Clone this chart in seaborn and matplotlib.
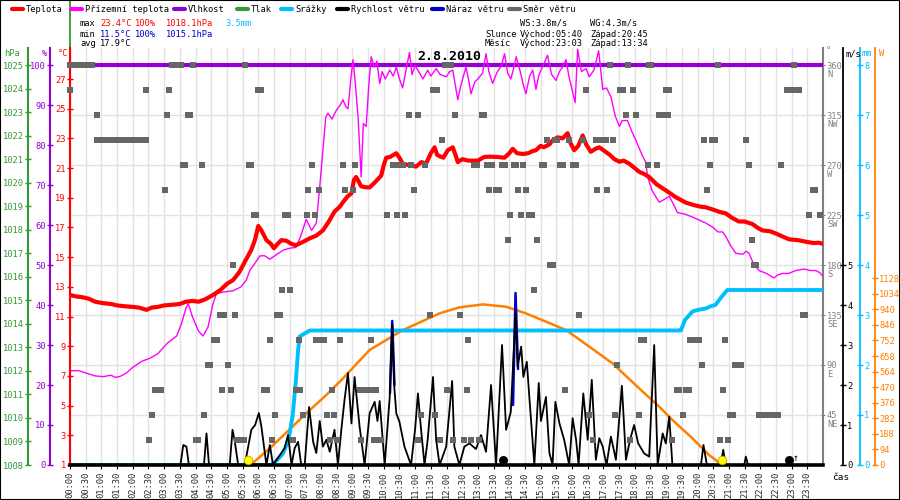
import numpy as np
import matplotlib
matplotlib.use("Agg")
import matplotlib.pyplot as plt
from matplotlib.lines import Line2D
from matplotlib.patches import Rectangle
import seaborn as sns

# --- data (hours since midnight) ---
day_label = "2.8.2010"

temp_hours = [0.0, 0.2, 0.4, 0.6, 0.8, 1.06, 1.3, 1.5, 1.7, 2.0, 2.2, 2.44, 2.6, 2.8, 3.0, 3.3, 3.5, 3.7,
              3.9, 4.1, 4.3, 4.56, 4.8, 5.0, 5.2, 5.4, 5.6, 5.78, 5.9, 6.0, 6.1, 6.26, 6.4, 6.5, 6.62,
              6.74, 6.9, 7.05, 7.2, 7.4, 7.64, 7.85, 8.06, 8.25, 8.43, 8.6, 8.7, 8.85, 8.97, 9.05, 9.12,
              9.2, 9.28, 9.45, 9.55, 9.7, 9.92, 10.0, 10.08, 10.2, 10.4, 10.5, 10.6, 10.8, 11.03, 11.2,
              11.35, 11.5, 11.62, 11.7, 11.78, 11.9, 12.04, 12.2, 12.3, 12.36, 12.5, 12.7, 12.84, 13.0,
              13.2, 13.37, 13.6, 13.85, 14.0, 14.11, 14.25, 14.43, 14.6, 14.75, 14.85, 15.0, 15.1, 15.28,
              15.4, 15.54, 15.7, 15.86, 15.95, 16.07, 16.2, 16.34, 16.45, 16.6, 16.75, 16.87, 17.0, 17.2,
              17.35, 17.51, 17.65, 17.82, 18.0, 18.14, 18.3, 18.46, 18.7, 18.99, 19.3, 19.63, 19.9, 20.1,
              20.26, 20.5, 20.7, 20.9, 21.1, 21.32, 21.5, 21.75, 21.9, 22.07, 22.3, 22.49, 22.7, 22.92,
              23.2, 23.45, 23.7, 23.87, 24.0]
temp_c = [12.45, 12.35, 12.3, 12.2, 12.0, 11.9, 11.85, 11.75, 11.7, 11.65, 11.6, 11.45, 11.6, 11.65, 11.75,
          11.8, 11.85, 12.0, 12.05, 12.0, 12.15, 12.45, 12.8, 13.2, 13.46, 14.0, 14.8, 15.5, 16.2, 17.1,
          16.8, 16.15, 15.9, 15.6, 15.9, 16.15, 16.1, 15.9, 15.8, 16.0, 16.27, 16.45, 16.8, 17.4, 18.07,
          18.4, 18.7, 19.1, 19.3, 20.2, 20.4, 20.1, 19.77, 19.7, 19.7, 20.0, 20.5, 21.2, 21.7, 21.75, 22.0,
          21.7, 21.3, 21.2, 21.1, 21.4, 21.3, 22.0, 22.4, 21.9, 21.8, 21.7, 22.2, 22.4, 21.8, 21.4, 21.6,
          21.5, 21.5, 21.5, 21.75, 21.77, 21.75, 21.7, 22.0, 22.3, 22.0, 21.95, 22.0, 22.15, 22.2, 22.5,
          22.4, 22.6, 22.9, 23.07, 23.0, 23.35, 22.7, 22.2, 22.5, 23.2, 22.6, 22.1, 22.3, 22.4, 22.2,
          21.9, 21.6, 21.43, 21.5, 21.3, 21.0, 20.75, 20.6, 20.4, 19.9, 19.5, 19.05, 18.67, 18.5, 18.4,
          18.36, 18.2, 18.05, 17.95, 17.65, 17.4, 17.4, 17.23, 17.0, 16.8, 16.75, 16.6, 16.4, 16.2,
          16.15, 16.04, 15.95, 15.97, 15.9]

ground_hours = [0.0, 0.3, 0.5, 0.8, 1.06, 1.3, 1.45, 1.6, 1.8, 2.0, 2.3, 2.55, 2.8, 3.1, 3.4, 3.55, 3.7,
                3.77, 3.9, 4.1, 4.24, 4.4, 4.55, 4.67, 4.9, 5.2, 5.45, 5.62, 5.73, 5.9, 6.05, 6.2, 6.37,
                6.6, 6.8, 7.0, 7.2, 7.35, 7.53, 7.7, 7.85, 7.95, 8.06, 8.15, 8.22, 8.35, 8.49, 8.6, 8.7,
                8.8, 8.86, 8.95, 9.02, 9.08, 9.18, 9.28, 9.35, 9.44, 9.52, 9.6, 9.7, 9.78, 9.87, 9.95,
                10.05, 10.19, 10.3, 10.4, 10.5, 10.6, 10.7, 10.82, 10.9, 11.0, 11.14, 11.25, 11.4, 11.5,
                11.67, 11.8, 12.0, 12.1, 12.2, 12.36, 12.45, 12.62, 12.7, 12.78, 12.9, 13.0, 13.15, 13.26,
                13.35, 13.47, 13.6, 13.75, 13.85, 13.95, 14.05, 14.15, 14.22, 14.35, 14.45, 14.53, 14.65,
                14.75, 14.85, 14.95, 15.1, 15.22, 15.35, 15.49, 15.6, 15.7, 15.81, 15.9, 16.0, 16.1, 16.18,
                16.3, 16.45, 16.55, 16.7, 16.85, 16.98, 17.1, 17.24, 17.38, 17.51, 17.6, 17.77, 17.9, 18.03,
                18.15, 18.25, 18.35, 18.41, 18.55, 18.78, 18.95, 19.1, 19.25, 19.36, 19.6, 19.84, 20.05,
                20.26, 20.5, 20.65, 20.8, 20.9, 21.05, 21.22, 21.45, 21.55, 21.64, 21.8, 21.96, 22.2, 22.44,
                22.55, 22.7, 22.9, 23.13, 23.4, 23.6, 23.77, 23.9, 24.0]
ground_c = [7.35, 7.35, 7.2, 7.0, 6.95, 7.05, 6.9, 6.97, 7.2, 7.58, 8.0, 8.19, 8.5, 9.2, 9.69, 10.5, 11.6,
            11.85, 11.0, 10.0, 9.69, 10.3, 11.8, 12.56, 12.65, 12.74, 13.0, 13.46, 14.1, 14.6, 15.08, 15.1,
            14.86, 15.2, 15.48, 15.6, 15.66, 16.4, 17.55, 16.8, 17.3, 19.5, 22.2, 24.4, 24.7, 24.3, 24.9,
            25.2, 25.6, 25.1, 25.0, 27.0, 28.3, 27.0, 24.5, 20.4, 24.0, 23.8, 26.5, 28.5, 27.8, 28.2, 26.7,
            27.5, 27.0, 27.6, 27.2, 27.8, 27.0, 26.4, 27.5, 28.8, 27.3, 27.9, 27.4, 27.0, 27.6, 27.2, 27.7,
            27.3, 27.15, 27.5, 27.6, 25.6, 26.5, 27.8, 27.0, 26.0, 26.8, 27.0, 27.4, 28.7, 27.5, 26.7, 27.4,
            27.9, 28.7, 27.4, 27.0, 27.8, 28.5, 27.5, 26.6, 26.0, 27.2, 27.6, 26.3, 27.3, 28.0, 28.6, 27.3,
            26.9, 27.5, 27.8, 28.3, 27.2, 26.3, 25.4, 29.0, 27.5, 27.7, 27.15, 27.6, 28.9, 26.3, 26.4, 25.8,
            24.5, 23.8, 24.2, 24.2, 23.5, 22.9, 22.3, 21.8, 21.4, 20.4, 19.5, 18.7, 18.9, 19.1, 18.5, 18.0,
            17.9, 17.7, 17.5, 17.3, 17.0, 16.7, 16.7, 16.4, 15.8, 15.26, 15.2, 15.4, 15.26, 14.5, 14.1,
            13.9, 13.6, 13.8, 13.9, 13.9, 14.1, 14.2, 14.1, 14.1, 13.95, 13.7]

hum_hours = [0.0, 24.0]
hum_pct = [100, 100]

pressure_start = 1018.1

rain_hours = [0.0, 6.42, 6.6, 6.79, 6.9, 7.0, 7.1, 7.21, 7.27, 7.32, 7.45, 7.64, 19.4, 19.47, 19.6,
              19.84, 20.0, 20.26, 20.4, 20.57, 20.75, 20.95, 24.0]
rain_mm = [0, 0, 0.1, 0.23, 0.4, 0.63, 1.0, 1.77, 2.3, 2.57, 2.62, 2.69, 2.69, 2.69, 2.9, 3.07, 3.1,
           3.13, 3.17, 3.2, 3.35, 3.5, 3.5]

wind_hours = [0.0, 3.52, 3.61, 3.71, 3.79, 4.27, 4.35, 4.43, 5.09, 5.18, 5.25, 5.36, 5.57, 5.78, 5.9,
              6.02, 6.1, 6.26, 6.37, 6.47, 6.84, 6.95, 7.06, 7.16, 7.27, 7.37, 7.48, 7.62, 7.75, 7.85,
              7.96, 8.06, 8.17, 8.28, 8.43, 8.54, 8.65, 8.75, 8.86, 8.97, 9.07, 9.23, 9.39, 9.55, 9.71,
              9.8, 9.87, 10.03, 10.19, 10.27, 10.34, 10.4, 10.5, 10.66, 10.87, 11.0, 11.09, 11.19, 11.3,
              11.4, 11.57, 11.67, 11.78, 11.99, 12.04, 12.18, 12.25, 12.41, 12.57, 12.73, 12.94, 13.1,
              13.26, 13.42, 13.58, 13.77, 13.9, 14.05, 14.2, 14.27, 14.38, 14.45, 14.56, 14.64, 14.8,
              14.94, 15.01, 15.17, 15.28, 15.38, 15.47, 15.6, 15.75, 15.91, 16.02, 16.13, 16.21, 16.36,
              16.5, 16.63, 16.76, 16.87, 16.98, 17.1, 17.24, 17.4, 17.59, 17.72, 17.85, 17.98, 18.11,
              18.3, 18.46, 18.62, 18.73, 18.89, 18.99, 19.1, 19.2, 20.11, 20.19, 20.3, 20.74, 20.82,
              20.9, 21.49, 21.54, 21.61, 24.0]
wind_ms = [0, 0, 0.5, 0.46, 0, 0, 0.79, 0, 0, 0.88, 0.6, 0, 0, 0.88, 1.0,
           1.3, 0.96, 0, 0.5, 0, 0.42, 0.75, 0, 0.42, 0.58, 0, 0, 1.45, 0.58, 0.3,
           1.1, 0.46, 0.63, 0.33, 0.88, 0, 0.9, 1.63, 2.3, 1.04, 2.2, 0.96, 0, 1.29, 1.58,
           1.1, 1.6, 0, 1.7, 3.5, 1.9, 1.29, 1.08, 0.46, 0, 0.9, 1.79, 0.88, 0,
           0.63, 2.2, 0.63, 0, 0.46, 0.9, 2.1, 0.46, 0, 0.46, 0.54, 0.4, 0.75,
           0.33, 2.0, 0, 3.0, 0.88, 1.33, 3.8, 2.46, 2.96, 2.2, 2.58, 1.7, 0,
           2.05, 1.1, 1.7, 0.3, 0, 1.58, 1.04, 0.63, 0, 1.17, 0.63, 0, 1.79,
           0.63, 2.13, 0.13, 0.67, 0.46, 0, 0.71, 0.13, 1.98, 0.13, 0.63, 1.0, 0.54,
           0.29, 0.21, 3.0, 0, 0.79, 0.54, 1.21, 0, 0, 0.5, 0, 0, 0.38,
           0, 0, 0.21, 0, 0]

gust_a_hours = [10.2, 10.27, 10.34]
gust_a_ms = [1.8, 3.6, 2.0]
gust_b_hours = [14.12, 14.2, 14.28]
gust_b_ms = [1.5, 4.3, 2.4]

solar_hours = [5.75, 6.37, 7.0, 7.53, 8.17, 8.65, 9.55, 10.61, 11.78, 12.41, 13.16, 13.9, 14.53, 15.17,
               15.81, 16.55, 17.29, 18.14, 18.78, 19.2, 19.84, 20.37, 20.79]
solar_w = [0, 101, 215, 312, 423, 513, 695, 815, 916, 952, 970, 956, 916, 866, 815, 715, 614, 463, 352,
           272, 161, 60, 0]

# wind direction squares, one list of hours per 22.5 deg sector
dir_n = [0.0, 0.1, 0.2, 0.3, 0.4, 0.5, 0.6, 0.7, 3.24, 3.34, 3.45, 3.55, 3.93, 5.57, 11.94, 12.15, 17.22,
         17.79, 18.44, 18.52, 20.66, 23.08]
dir_nnw = [0.0, 2.42, 3.16, 6.0, 6.1, 11.56, 11.7, 16.46, 17.54, 17.62, 17.96, 19.0, 19.08, 22.86, 22.96,
           23.06, 23.16, 23.24]
dir_nw = [0.85, 3.1, 3.76, 3.84, 10.79, 11.1, 12.27, 13.12, 13.2, 17.73, 18.05, 18.78, 18.88, 18.98, 19.07]
dir_wnw = [0.85, 0.95, 1.05, 1.15, 1.25, 1.35, 1.45, 1.55, 1.65, 1.75, 1.85, 1.95, 2.05, 2.15, 2.25, 2.35,
           2.42, 11.87, 15.2, 15.45, 15.53, 15.91, 16.36, 16.76, 16.86, 16.97, 17.08, 17.3, 20.21, 20.47,
           20.55, 21.55]
dir_w = [3.6, 3.68, 4.2, 5.7, 5.78, 7.7, 8.69, 9.09, 10.3, 10.4, 10.5, 10.6, 10.88, 11.3, 12.88, 12.96,
         13.3, 13.46, 13.78, 13.86, 14.14, 14.22, 14.45, 15.03, 15.11, 15.63, 15.71, 16.04, 16.12, 18.41,
         18.72, 20.39, 21.64, 22.65]
dir_wsw = [3.02, 7.6, 7.94, 8.77, 9.03, 10.95, 13.37, 13.59, 13.67, 14.29, 14.53, 16.8, 17.11, 20.3,
           23.67, 23.75]
dir_sw = [5.85, 5.93, 6.86, 6.94, 7.54, 7.8, 8.85, 8.93, 10.11, 10.43, 10.68, 14.03, 14.39, 14.63, 14.71,
          23.55, 23.92]
dir_ssw = [13.95, 14.89, 21.73]
dir_s = [5.19, 15.3, 15.38, 21.79, 21.87]
dir_sse = [6.77, 7.02, 14.8]
dir_se = [4.77, 4.92, 5.27, 6.61, 6.69, 11.46, 12.43, 16.21, 23.35, 23.43]
dir_ese = [4.6, 4.68, 6.37, 7.29, 7.85, 8.02, 8.1, 8.62, 9.6, 12.7, 18.21, 18.29, 19.75, 19.85, 19.95,
           20.05, 20.88]
dir_e = [4.39, 4.47, 5.03, 17.45, 20.14, 21.2, 21.3, 21.4]
dir_ene = [2.7, 2.8, 2.9, 4.86, 5.12, 6.19, 6.27, 7.2, 7.34, 8.36, 9.23, 9.33, 9.44, 9.55, 9.76, 12.02,
           12.64, 15.79, 19.34, 19.42, 19.64, 19.72, 20.82]
dir_ne = [2.6, 4.27, 6.53, 7.43, 8.2, 8.43, 11.19, 11.62, 16.55, 17.37, 18.14, 19.54, 21.05, 21.13, 21.96,
          22.06, 22.16, 22.26, 22.36, 22.46, 22.56]
dir_nne = [2.51, 4.01, 4.09, 5.31, 5.39, 5.48, 5.56, 6.44, 7.12, 8.28, 8.52, 9.29, 9.69, 9.8, 9.9, 11.09,
           11.78, 12.22, 12.55, 12.79, 13.05, 16.66, 17.85, 19.2, 20.72, 20.96]
sectors = [(360, dir_n), (337.5, dir_nnw), (315, dir_nw), (292.5, dir_wnw), (270, dir_w),
           (247.5, dir_wsw), (225, dir_sw), (202.5, dir_ssw), (180, dir_s), (157.5, dir_sse),
           (135, dir_se), (112.5, dir_ese), (90, dir_e), (67.5, dir_ene), (45, dir_ne), (22.5, dir_nne)]

sun_marks = [5.68, 20.79]
moon_marks = [13.79, 22.92]

compass_ticks = [45, 90, 135, 180, 225, 270, 315, 360]
compass_names = ["NE", "E", "SE", "S", "SW", "W", "NW", "N"]

legend_labels = ["Teplota", "Přízemní teplota", "Vlhkost", "Tlak", "Srážky",
                 "Rychlost větru", "Náraz větru", "Směr větru"]

RED, MAG, PUR, GRN = "#ff0000", "#ff00ff", "#9400d3", "#339933"
CYA, BLK, BLU, GRY, ORA = "#00bfff", "#000000", "#0000cc", "#666666", "#ff8000"
legend_colors = [RED, MAG, PUR, GRN, CYA, BLK, BLU, GRY]
legend_x = [12, 71, 174, 237, 281, 337, 432, 509]

sns.set_style("white")
plt.rcParams["font.family"] = ["DejaVu Sans Mono", "DejaVu Sans"]
plt.rcParams["font.size"] = 6.3

W_PX, H_PX = 900, 500


def fx(x):
    return x / W_PX


def fy(y):
    return 1 - y / H_PX


fig = plt.figure(figsize=(9, 5), dpi=100)
L, R, T, B = 70, 823, 48, 465
ax_g = fig.add_axes([fx(L), fy(B), (R - L) / W_PX, (B - T) / H_PX])
ax_s = ax_g.twinx()
ax_r = ax_g.twinx()
ax_h = ax_g.twinx()
ax_p = ax_g.twinx()
ax_t = ax_g.twinx()
ax_w = ax_g.twinx()
ax_sq = ax_g.twinx()

# pixel scales of the reference
t_top = 1 + (B - T) / 14.846
h_top = (B - T) / 4.0
p_top = 1008 + (B - T) * 17 / 400
d_top = (B - T) * 360 / 400
w_top = (B - T) / 40
r_top = (B - T) / 50
s_top = (B - T) * 6.04

for a in [ax_g, ax_s, ax_r, ax_h, ax_p, ax_t, ax_w, ax_sq]:
    for sp in a.spines.values():
        sp.set_visible(False)
    a.set_xlim(0, 24)
    a.set_ylabel("")
    a.set_xlabel("")

# lines
sns.lineplot(x=solar_hours, y=solar_w, ax=ax_s, color=ORA, lw=1.8, estimator=None)
sns.lineplot(x=rain_hours, y=rain_mm, ax=ax_r, color=CYA, lw=2.8, estimator=None)
sns.lineplot(x=hum_hours, y=hum_pct, ax=ax_h, color=PUR, lw=3, estimator=None)
sns.lineplot(x=ground_hours, y=ground_c, ax=ax_t, color=MAG, lw=1.0, estimator=None)
sns.lineplot(x=temp_hours, y=temp_c, ax=ax_t, color=RED, lw=3, estimator=None)
sns.lineplot(x=gust_a_hours, y=gust_a_ms, ax=ax_w, color=BLU, lw=1.8, estimator=None)
sns.lineplot(x=gust_b_hours, y=gust_b_ms, ax=ax_w, color=BLU, lw=1.8, estimator=None)
sns.lineplot(x=wind_hours, y=wind_ms, ax=ax_w, color=BLK, lw=1.3, estimator=None)
sns.scatterplot(x=sun_marks, y=[0.13] * len(sun_marks), ax=ax_w, color="#ffff00", edgecolor="#c8a000",
                linewidth=0.6, s=38, zorder=5, clip_on=False)
sns.scatterplot(x=moon_marks, y=[0.13] * len(moon_marks), ax=ax_w, color=BLK, linewidth=0, s=42,
                zorder=5, clip_on=False)
ax_w.text(moon_marks[1] + 0.2, 0.05, "↑", fontsize=7, ha="center", va="bottom", color=BLK)

dir_hours = [h for d, hs in sectors for h in hs]
dir_deg = [d for d, hs in sectors for h in hs]
sns.scatterplot(x=dir_hours, y=dir_deg, ax=ax_sq, marker="s", s=24, color=GRY, linewidth=0,
                clip_on=False)

# limits
ax_g.set_ylim(0, d_top)
ax_sq.set_ylim(0, d_top)
ax_t.set_ylim(1, t_top)
ax_h.set_ylim(0, h_top)
ax_p.set_ylim(1008, p_top)
ax_w.set_ylim(0, w_top)
ax_r.set_ylim(0, r_top)
ax_s.set_ylim(0, s_top)
for a in [ax_g, ax_s, ax_r, ax_h, ax_p, ax_t, ax_w, ax_sq]:
    a.set_xlim(0, 24)

# grid + time axis on the base axes
ax_g.set_xticks(np.arange(0, 24, 0.5))
ax_g.set_xticklabels([f"{int(h):02d}:{int(round((h % 1) * 60)):02d}" for h in np.arange(0, 24, 0.5)],
                     rotation=90, fontsize=6.3)
ax_g.grid(True, color="#e2e2e2", lw=1)
ax_g.tick_params(axis="x", bottom=True, length=3, width=0.8, color=BLK, pad=2, direction="out")

# direction axis (right)
ax_g.yaxis.tick_right()
ax_g.set_yticks(compass_ticks)
ax_g.set_yticklabels([str(v) for v in compass_ticks])
ax_g.spines["right"].set_visible(True)
ax_g.spines["right"].set_color("#808080")
ax_g.spines["right"].set_linewidth(1.5)
ax_g.tick_params(axis="y", right=True, left=False, labelright=True, labelleft=False, colors="#808080",
                 length=3, direction="inout", pad=1)
for v, name in zip(compass_ticks, compass_names):
    ax_g.annotate(name, xy=(1, v), xycoords=("axes fraction", "data"), xytext=(3, -7),
                  textcoords="offset points", ha="left", va="center", color="#808080", fontsize=6.3)
ax_sq.set_yticks([])

# left axes
left_specs = [(ax_t, 0.0, RED, np.arange(1, 28, 2)),
              (ax_h, -20 / 753, PUR, np.arange(0, 101, 10)),
              (ax_p, -42 / 753, GRN, np.arange(1008, 1026, 1))]
for a, pos, col, ticks in left_specs:
    a.yaxis.set_ticks_position("left")
    a.spines["left"].set_visible(True)
    a.spines["left"].set_position(("axes", pos))
    a.spines["left"].set_color(col)
    a.spines["left"].set_linewidth(1.5)
    a.set_yticks(ticks)
    a.set_yticklabels([str(int(t)) for t in ticks])
    a.tick_params(axis="y", left=True, right=False, labelleft=True, labelright=False, colors=col,
                  length=4, width=1, direction="inout", pad=1)

# right axes
right_specs = [(ax_w, 1 + 20 / 753, BLK, np.arange(0, 6, 1)),
               (ax_r, 1 + 37 / 753, CYA, np.arange(0, 9, 1)),
               (ax_s, 1 + 52 / 753, ORA, np.arange(0, 1129, 94))]
for a, pos, col, ticks in right_specs:
    a.yaxis.set_ticks_position("right")
    a.spines["right"].set_visible(True)
    a.spines["right"].set_position(("axes", pos))
    a.spines["right"].set_color(col)
    a.spines["right"].set_linewidth(1.3)
    a.set_yticks(ticks)
    a.set_yticklabels([str(int(t)) for t in ticks])
    a.tick_params(axis="y", right=True, left=False, labelright=True, labelleft=False, colors=col,
                  length=4, width=1, direction="inout", pad=1)

ax_w.spines["bottom"].set_visible(True)
ax_w.spines["bottom"].set_color(BLK)
ax_w.spines["bottom"].set_linewidth(2.6)

# odd vertical bits at the start of the temperature axis
p_frac = (pressure_start - 1008) / (p_top - 1008)
ax_p.axvline(0, ymin=p_frac, ymax=B / (B - T), color=GRN, lw=1.3, clip_on=False, zorder=3)
ax_t.axvline(0, ymin=(24.6 - 1) / (t_top - 1), ymax=1, color=RED, lw=1.5, zorder=4)

# axis headers
fig.text(fx(4), fy(54), "hPa", color=GRN, ha="left", va="center")
fig.text(fx(42), fy(54), "%", color=PUR, ha="left", va="center")
fig.text(fx(58), fy(54), "°C", color=RED, ha="left", va="center")
fig.text(fx(826), fy(51), "°", color="#808080", ha="left", va="center")
fig.text(fx(845), fy(54), "m/s", color=BLK, ha="left", va="center")
fig.text(fx(862), fy(54), "mm", color=CYA, ha="left", va="center")
fig.text(fx(879), fy(54), "W", color=ORA, ha="left", va="center")
fig.text(fx(832), fy(478), "čas", color=BLK, ha="left", va="center", fontsize=6.8)

# legend row
for x0, lab, col in zip(legend_x, legend_labels, legend_colors):
    fig.add_artist(Line2D([fx(x0), fx(x0 + 11)], [fy(9), fy(9)], transform=fig.transFigure,
                          color=col, lw=3))
    fig.text(fx(x0 + 14), fy(9), lab, color=BLK, ha="left", va="center")

# stats block
rows = [(23, [(80, "max", BLK), (100, "23.4°C", RED), (135, "100%", RED), (166, "1018.1hPa", RED),
              (225, "3.5mm", CYA), (520, "WS:3.8m/s", BLK), (590, "WG:4.3m/s", BLK)]),
        (34, [(80, "min", BLK), (100, "11.5°C", BLU), (135, "100%", BLU), (166, "1015.1hPa", BLU),
              (485, "Slunce", BLK), (520, "Východ:05:40", BLK), (590, "Západ:20:45", BLK)]),
        (44, [(80, "avg", BLK), (100, "17.9°C", BLK),
              (485, "Měsíc", BLK), (520, "Východ:23:03", BLK), (590, "Západ:13:34", BLK)])]
for yy, parts in rows:
    for xx, txt, col in parts:
        fig.text(fx(xx), fy(yy), txt, color=col, ha="left", va="center")

fig.text(fx(449), fy(57), day_label, ha="center", va="center", fontsize=9.5, weight="bold", color=BLK)

fig.add_artist(Rectangle((0, 0), 1, 1, transform=fig.transFigure, fill=False, edgecolor=BLK, lw=1.5))

fig.savefig("out.png", dpi=100)
